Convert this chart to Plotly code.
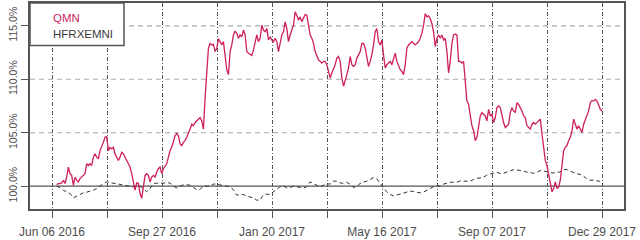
import numpy as np
import plotly.graph_objects as go

# ---- data (cumulative growth, %) ----
series_names = ["QMN", "HFRXEMNI"]
tick_days = [0, 40, 80, 120, 160, 200, 240, 280, 320, 360, 400]
tick_labels = ["Jun 06 2016", "", "Sep 27 2016", "", "Jan 20 2017", "",
               "May 16 2017", "", "Sep 07 2017", "", "Dec 29 2017"]
y_ticks = [100, 105, 110, 115]
y_tick_labels = ["100.0%", "105.0%", "110.0%", "115.0%"]
first_day = 3.4
last_day_qmn = 400
last_day_hfrx = 398.5

qmn = [
    100.15, 100.25, 100.25, 100.31, 100.56, 100.25, 100.86, 101.79, 101.17, 101.02,
    100.09, 100.86, 100.56, 100.40, 100.71, 100.86, 101.02, 101.17, 102.10, 101.94,
    102.10, 101.94, 102.72, 103.02, 102.72, 102.56, 103.33, 103.64, 104.10, 104.57,
    104.63, 103.33, 103.64, 103.49, 103.64, 103.02, 102.72, 102.41, 102.72, 103.18,
    103.02, 102.72, 102.41, 102.10, 101.79, 101.17, 100.40, 99.63, 100.31, 100.25,
    99.32, 98.86, 99.94, 101.02, 101.17, 101.02, 100.40, 100.86, 101.02, 100.86,
    101.33, 101.64, 101.79, 101.17, 101.64, 101.94, 102.10, 102.72, 103.33, 103.64,
    104.26, 104.72, 104.94, 104.72, 103.95, 103.80, 104.10, 104.26, 104.57, 104.88,
    105.34,
    105.80, 105.65, 105.96, 106.11, 106.27, 106.42, 106.11, 105.34, 108.27, 111.20,
    112.90, 113.36, 113.21, 113.27, 112.59, 112.90, 113.77, 113.52, 113.21, 113.52,
    112.28, 110.90, 110.43, 112.59, 113.21, 114.14, 114.51, 114.29, 113.83, 114.14,
    113.98, 114.60, 114.14, 112.59, 112.44, 112.35, 112.22, 112.75, 113.52, 114.14,
    113.52, 113.83, 115.06, 114.60, 114.44, 114.75, 113.67, 113.98, 113.67, 113.52,
    113.83, 113.52, 112.59, 113.36, 114.14, 114.44, 115.37, 114.75, 113.52, 114.14,
    114.60, 115.06, 116.30, 115.99, 115.52, 115.83, 115.37, 115.68, 116.05, 115.99,
    115.06, 114.14, 113.83, 113.36, 112.59, 112.28, 111.82, 111.67, 111.51, 111.67,
    111.67, 111.36, 110.59, 110.12,
    110.59, 110.90, 111.36, 111.98, 112.13, 111.67, 110.12, 109.35, 109.81, 110.43,
    111.05, 112.13, 111.36, 111.20, 111.36, 111.98, 112.28, 112.59, 113.36, 113.36,
    112.90, 112.13, 111.20, 111.67, 112.28, 113.21, 114.44, 114.75, 113.52, 113.21,
    113.67, 112.28, 111.05, 111.36, 111.51, 111.67, 111.36, 111.98, 112.44, 111.67,
    111.20, 110.90, 110.74, 110.43, 111.36, 112.90, 113.21, 113.36, 113.52, 113.36,
    113.21, 113.36, 113.52, 113.83, 114.29, 115.06, 116.14, 115.83, 115.93, 115.68,
    115.22, 114.44, 113.06, 113.83, 114.14, 113.83, 114.14, 113.67, 113.83, 112.59,
    110.59, 111.67, 113.36, 114.14, 114.23, 114.14, 111.67, 111.67, 111.51, 111.67,
    110.12, 107.96, 107.65, 106.42,
    105.65, 105.19, 104.26, 104.57, 105.80, 106.57, 106.88, 106.73, 106.57, 106.11,
    107.19, 106.57, 106.73, 105.96, 106.42, 107.35, 107.50, 107.35, 106.57, 105.96,
    105.49, 105.65, 105.80, 106.88, 107.35, 107.04, 106.88, 107.81, 107.65, 107.35,
    107.04, 106.57, 106.42, 105.65, 105.49, 105.34, 105.80, 105.96, 105.80, 105.96,
    106.11, 106.27, 104.88, 103.33, 102.41, 101.94, 101.17, 100.25, 99.48, 99.78,
    100.40, 99.78, 99.94, 100.56, 102.10, 103.33, 103.64, 103.80, 104.26, 104.57,
    105.19, 106.27, 105.80, 105.34, 105.65, 105.34, 105.03, 105.80, 106.27, 106.57,
    107.04, 107.81, 108.02, 107.96, 108.12, 107.96, 107.50, 107.19, 107.04,
]

hfrx = [
    100.00, 99.88, 99.63, 99.48, 99.32, 98.92, 99.07, 99.23, 99.38, 99.44,
    99.51, 99.63, 99.78, 100.03, 100.25, 100.40, 100.34, 100.34, 100.28, 100.19,
    100.09, 100.09, 100.00, 99.94, 100.00, 100.00, 99.78, 99.48, 99.78, 100.25,
    100.28, 100.28, 100.25, 100.28, 100.31, 100.00, 99.85, 100.00, 100.12, 100.15,
    100.09,
    99.88, 99.69, 99.69, 100.03, 100.00, 100.00, 100.19, 100.22, 100.12, 100.09,
    100.00, 99.94, 99.69, 99.17, 99.17, 99.23, 99.07, 98.98, 98.92, 98.70,
    98.70, 99.20, 99.26, 99.23, 99.48, 99.69, 99.94, 100.03, 99.85, 99.88,
    100.00, 99.94, 99.88, 99.85, 99.94, 100.40, 100.25, 100.09, 99.94, 100.09,
    100.25, 100.19,
    100.49, 100.46, 100.31, 100.28, 100.37, 100.19, 99.88, 99.97, 100.25, 100.40,
    100.46, 100.62, 100.80, 100.71, 100.31, 99.88, 99.48, 99.23, 99.10, 99.17,
    99.26, 99.35, 99.44, 99.54, 99.51, 99.41, 99.38, 99.44, 99.60, 99.72,
    99.94, 100.00, 100.03, 100.19, 100.28, 100.37, 100.37, 100.37, 100.49, 100.46,
    100.43, 100.46,
    100.62, 100.74, 100.77, 100.83, 101.02, 101.14, 101.23, 101.30, 101.20, 101.20,
    101.30, 101.42, 101.54, 101.54, 101.45, 101.39, 101.33, 101.30, 101.20, 101.30,
    101.45, 101.42, 101.36, 101.30, 101.23, 101.30, 101.33, 101.54, 101.57, 101.42,
    101.27, 101.17, 101.11, 100.96, 100.71, 100.56, 100.56, 100.52, 100.46,
]

# ---- styles ----
RED = "#CE1F5E"
DARK = "#555555"
TXT = "#4D4D4D"
FONT = "Liberation Sans, Arial, sans-serif"

x_qmn = np.linspace(first_day, last_day_qmn, len(qmn))
x_hfrx = np.linspace(first_day, last_day_hfrx, len(hfrx))

fig = go.Figure()
fig.add_trace(go.Scatter(x=x_hfrx, y=hfrx, mode="lines", name=series_names[1],
                         line=dict(color="#333333", width=1, dash="4px,3px")))
fig.add_trace(go.Scatter(x=x_qmn, y=qmn, mode="lines", name=series_names[0],
                         line=dict(color=RED, width=1.3)))

shapes = []
# horizontal reference lines at the y ticks
for v in y_ticks:
    if v == 100:
        shapes.append(dict(type="line", xref="paper", yref="y", x0=0, x1=1, y0=v, y1=v,
                           line=dict(color=DARK, width=1.2), layer="below"))
    else:
        shapes.append(dict(type="line", xref="paper", yref="y", x0=0, x1=1, y0=v, y1=v,
                           line=dict(color="#AAAAAA", width=1.2, dash="5px,4px"), layer="below"))
# legend box
shapes.append(dict(type="rect", xref="paper", yref="paper", x0=0, x1=94 / 594,
                   y0=1 - 43 / 208, y1=1, fillcolor="white",
                   line=dict(color=DARK, width=1.5), layer="above"))
fig.update_layout(shapes=shapes)

fig.add_annotation(xref="paper", yref="paper", x=21 / 594, y=1 - 15.5 / 208,
                   xanchor="left", yanchor="middle", showarrow=False,
                   text=series_names[0], font=dict(family=FONT, size=11.5, color=RED))
fig.add_annotation(xref="paper", yref="paper", x=21 / 594, y=1 - 31 / 208,
                   xanchor="left", yanchor="middle", showarrow=False,
                   text=series_names[1], font=dict(family=FONT, size=11.5, color="#3C3C3C"))

fig.update_xaxes(range=[-16, 416], tickvals=tick_days, ticktext=tick_labels,
                 ticks="outside", ticklen=7, tickcolor=DARK, tickwidth=1,
                 ticklabelstandoff=4,
                 showgrid=True, gridcolor=DARK, gridwidth=1, griddash="4px,2px,1px,2px",
                 showline=True, linecolor=DARK, linewidth=1.5, mirror=True,
                 zeroline=False, tickfont=dict(family=FONT, size=12, color=TXT))
fig.update_yaxes(range=[97.87, 117.13], tickvals=y_ticks, ticktext=y_tick_labels,
                 tickangle=-90, ticks="outside", ticklen=7, tickcolor=DARK, tickwidth=1,
                 showgrid=False, showline=True, linecolor=DARK, linewidth=1.5, mirror=True,
                 zeroline=False, tickfont=dict(family=FONT, size=10.5, color=TXT))

fig.update_layout(width=640, height=240, margin=dict(l=30, r=16, t=1, b=31),
                  plot_bgcolor="white", paper_bgcolor="white", showlegend=False,
                  font=dict(family=FONT))

fig.write_html("out.html")
